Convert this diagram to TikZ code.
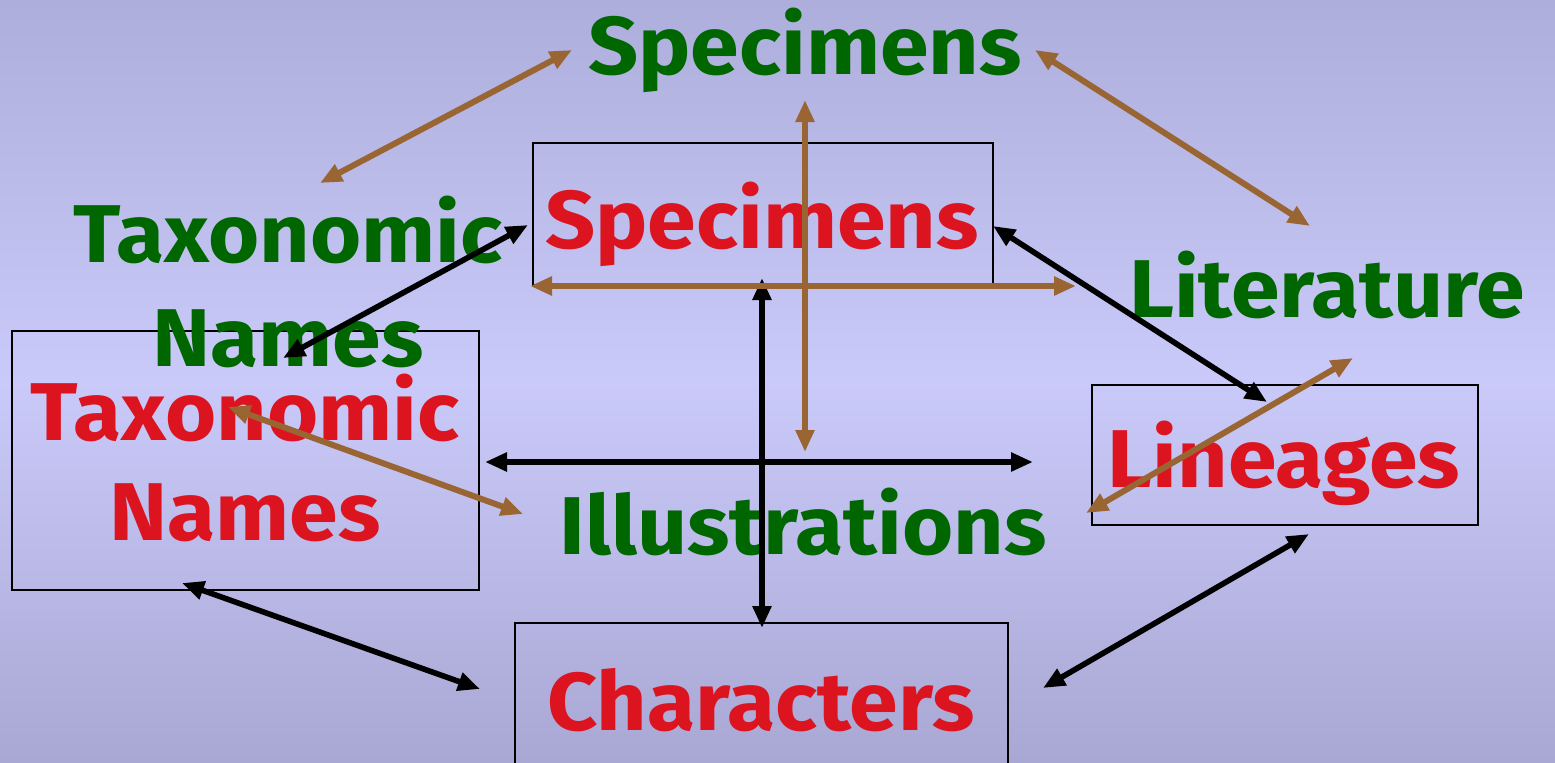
\documentclass[tikz,border=0pt]{standalone}
\usepackage{fontspec}
\setmainfont{Fira Sans}[FakeStretch=1.07]
\usepackage{tikz}
\usetikzlibrary{arrows.meta,positioning}

\definecolor{bgtop}{HTML}{ADAEDB}
\definecolor{bgmid}{HTML}{CACAFA}
\definecolor{bgbot}{HTML}{A9A7D3}
\definecolor{lblgreen}{HTML}{006600}
\definecolor{lblred}{HTML}{DC1420}
\definecolor{linkbrown}{HTML}{996633}

\tikzset{
  greenlbl/.style={text=lblgreen, font=\fontsize{41}{52}\selectfont\bfseries, align=center, inner sep=0pt},
  redlbl/.style={text=lblred, font=\fontsize{41}{50}\selectfont\bfseries, align=center, inner sep=0pt},
  redbox/.style={draw=black, line width=0.7pt, inner sep=0pt},
  brownlink/.style={draw=linkbrown, line width=3pt, {Triangle[length=11pt,width=9pt]}-{Triangle[length=11pt,width=9pt]}},
  blacklink/.style={draw=black, line width=2.8pt, {Triangle[length=11pt,width=9pt]}-{Triangle[length=11pt,width=9pt]}},
}

\begin{document}
\begin{tikzpicture}[x=0.5pt,y=0.5pt,yscale=-1,xscale=1]
        % background
        \useasboundingbox (0,0) rectangle (1555,762);
        \clip (0,0) rectangle (1555,762);
        \shade [top color=bgtop, bottom color=bgbot, middle color=bgmid] (0,0) rectangle (1555,762);
        % Boxes
        \node [redbox, minimum width=230pt, minimum height=71pt] (specB) at (763,214) {};
        \node [redbox, minimum width=233.5pt, minimum height=129.5pt] (taxB) at (245.5,460.5) {};
        \node [redbox, minimum width=193pt, minimum height=70pt] (linB) at (1285,455) {};
        \node [redbox, minimum width=246.5pt, minimum height=80pt] (charB) at (761.5,703) {};
        % Red text nodes
        \node [redlbl] (specR) at (762,224) {Specimens};
        \node [redlbl] (taxR) at (245,458) {Taxonomic\\Names};
        \node [redlbl] (linR) at (1284,463) {Lineages};
        \node [redlbl] (charR) at (761,700) {Characters};
        % Green text nodes
        \node [greenlbl] (specT) at (805,50) {Specimens};
        \node [greenlbl] (taxT) at (288,282) {Taxonomic\\Names};
        \node [greenlbl] (litT) at (1327,285) {Literature};
        \node [greenlbl] (illT) at (803,522) {Illustrations};
        % Link ends
        \coordinate (b1a) at (320,183);  \coordinate (b1b) at (572,50);
        \coordinate (b2a) at (1035,50);  \coordinate (b2b) at (1310,226);
        \coordinate (b3a) at (805,100);  \coordinate (b3b) at (805,452);
        \coordinate (b4a) at (530,286);  \coordinate (b4b) at (1076,286);
        \coordinate (b5a) at (228,407);  \coordinate (b5b) at (523,514);
        \coordinate (b6a) at (1086,513); \coordinate (b6b) at (1353,358);
        \coordinate (k1a) at (283,358);  \coordinate (k1b) at (528,225);
        \coordinate (k2a) at (993,226);  \coordinate (k2b) at (1267,402);
        \coordinate (k3a) at (762,278);  \coordinate (k3b) at (762,628);
        \coordinate (k4a) at (485,462);  \coordinate (k4b) at (1033,462);
        \coordinate (k5a) at (182,583);  \coordinate (k5b) at (480,689);
        \coordinate (k6a) at (1043,688); \coordinate (k6b) at (1309,534);
        % Black links
        \draw [blacklink] (k1a) -- (k1b);
        \draw [blacklink] (k2a) -- (k2b);
        \draw [blacklink] (k3a) -- (k3b);
        \draw [blacklink] (k4a) -- (k4b);
        \draw [blacklink] (k5a) -- (k5b);
        \draw [blacklink] (k6a) -- (k6b);
        % Brown links
        \draw [brownlink] (b1a) -- (b1b);
        \draw [brownlink] (b2a) -- (b2b);
        \draw [brownlink] (b3a) -- (b3b);
        \draw [brownlink] (b4a) -- (b4b);
        \draw [brownlink] (b5a) -- (b5b);
        \draw [brownlink] (b6a) -- (b6b);
\end{tikzpicture}
\end{document}
